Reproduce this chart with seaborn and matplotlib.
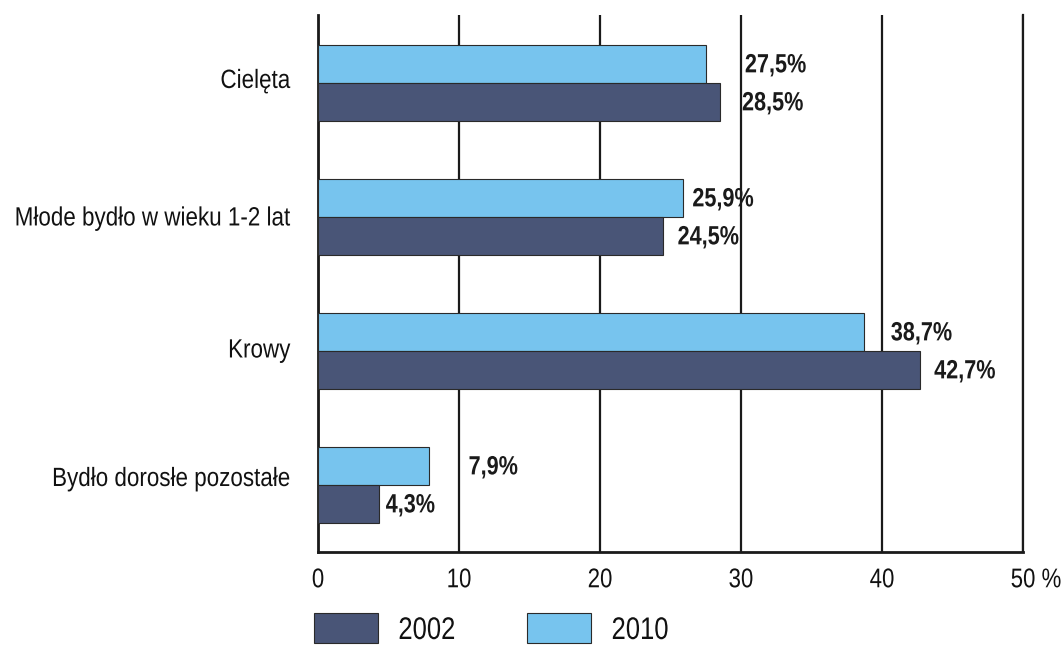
import matplotlib
matplotlib.use("Agg")
import matplotlib.pyplot as plt
import matplotlib.transforms as mtransforms
from matplotlib import patheffects
from matplotlib.patches import Patch
import seaborn as sns
import pandas as pd

categories = ["Cielęta", "Młode bydło w wieku 1-2 lat", "Krowy", "Bydło dorosłe pozostałe"]
values_2002 = [28.5, 24.5, 42.7, 4.3]
values_2010 = [27.5, 25.9, 38.7, 7.9]
years = ["2002", "2010"]
xtick_values = [0, 10, 20, 30, 40, 50]
xtick_labels = ["0", "10", "20", "30", "40", "50 %"]

# label horizontal offsets (pixels) from bar end
offsets_2010 = [39, 9, 27, 39]
offsets_2002 = [22, 14, 14, 7]
# category label vertical nudges (pixels, upward)
ylabel_nudge = [4.5, 1, 3, 8.5]

colors = {"2002": "#495577", "2010": "#77C4EE"}


class Narrow(patheffects.AbstractPathEffect):
    """Horizontally condense glyphs to mimic a narrow typeface."""

    def __init__(self, sx=0.82, anchor="left"):
        super().__init__()
        self.sx = sx
        self.anchor = anchor

    def draw_path(self, renderer, gc, tpath, affine, rgbFace=None):
        ext = tpath.get_extents()
        if self.anchor == "right":
            x0 = ext.x1
        elif self.anchor == "center":
            x0 = (ext.x0 + ext.x1) / 2
        else:
            x0 = ext.x0
        t = mtransforms.Affine2D().translate(-x0, 0).scale(self.sx, 1).translate(x0, 0)
        renderer.draw_path(gc, tpath, t + affine, rgbFace)


sns.set_theme(style="white")
plt.rcParams["font.family"] = ["Liberation Sans", "DejaVu Sans"]

df = pd.DataFrame({
    "category": categories * 2,
    "value": values_2010 + values_2002,
    "year": ["2010"] * 4 + ["2002"] * 4,
})

fig = plt.figure(figsize=(10.64, 6.48), dpi=100)
ax = fig.add_axes([318 / 1064, 1 - 552 / 648, (1023 - 318) / 1064, (552 - 15) / 648])

sns.barplot(data=df, x="value", y="category", hue="year", hue_order=["2010", "2002"],
            palette=colors, saturation=1, width=0.567, orient="h", edgecolor="#2a2a2a",
            linewidth=0.8, legend=False, ax=ax, zorder=3)

ax.set_xlim(0, 50)
ax.set_ylim(3.5, -0.507)
ax.set_xticks(xtick_values)
ax.set_xticklabels(xtick_labels, fontsize=19.5)
ax.tick_params(axis="x", length=0, pad=11, colors="#111111")
ax.tick_params(axis="y", length=0, pad=20, labelsize=19, colors="#111111")
ax.set_xlabel("")
ax.set_ylabel("")

for t in ax.get_xticklabels():
    t.set_path_effects([Narrow(0.82, "center")])
for t, dy in zip(ax.get_yticklabels(), ylabel_nudge):
    t.set_path_effects([Narrow(0.85, "right")])
    t.set_transform(t.get_transform() + mtransforms.ScaledTranslation(0, dy / 100, fig.dpi_scale_trans))

# shift "50 %" label to the right
lbl = ax.get_xticklabels()[-1]
lbl.set_transform(lbl.get_transform() + mtransforms.ScaledTranslation(13 / 100, 0, fig.dpi_scale_trans))

ax.set_axisbelow(True)
ax.grid(axis="x", color="#1a1a1a", linewidth=1.6)
ax.grid(axis="y", visible=False)
for side in ["left", "bottom", "right"]:
    ax.spines[side].set_visible(True)
    ax.spines[side].set_color("#1a1a1a")
ax.spines["left"].set_linewidth(2.0)
ax.spines["bottom"].set_linewidth(2.0)
ax.spines["right"].set_linewidth(1.6)
ax.spines["top"].set_visible(False)

for container, offs, vals in zip(ax.containers, [offsets_2010, offsets_2002], [values_2010, values_2002]):
    for bar, off, v in zip(container, offs, vals):
        y = bar.get_y() + bar.get_height() / 2
        ax.annotate(f"{v:.1f}%".replace(".", ","), xy=(bar.get_width(), y),
                    xytext=(off * 0.72, -1), textcoords="offset points",
                    ha="left", va="center", fontsize=19, fontweight="bold",
                    color="#1a1a1a", zorder=5, annotation_clip=False,
                    path_effects=[Narrow(0.82, "left")])

handles = [Patch(facecolor=colors[y], edgecolor="#2a2a2a", linewidth=0.8) for y in years]
leg = fig.legend(handles, years, loc="lower left", bbox_to_anchor=(314 / 1064, 2 / 648),
                 ncol=2, frameon=False, fontsize=22.5, handlelength=2.05, handleheight=1.09,
                 handletextpad=0.64, columnspacing=1.9, borderpad=0, borderaxespad=0)
for t in leg.get_texts():
    t.set_color("#111111")
    t.set_path_effects([Narrow(0.82, "left")])

fig.savefig("out.png", dpi=100)
